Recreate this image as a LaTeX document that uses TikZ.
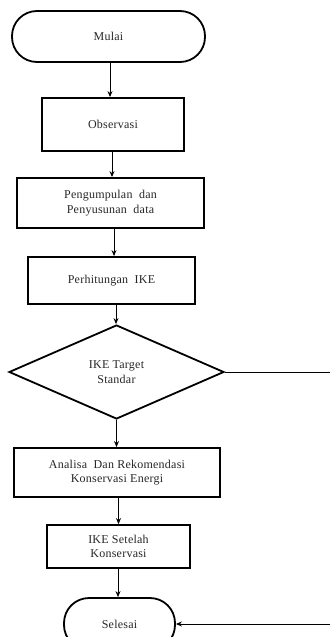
\documentclass[tikz,border=0pt]{standalone}
\usepackage{fontspec}
\setmainfont[LetterSpace=2]{Liberation Serif}
\usetikzlibrary{shapes.geometric,arrows.meta}
\begin{document}
\begin{tikzpicture}[x=1pt,y=1pt,
  every node/.style={font=\fontsize{12}{14.5}\selectfont, text=black!85, align=center},
  procbox/.style={draw, line width=1.8pt, rectangle, inner sep=0pt},
  termbox/.style={draw, line width=1.8pt, rectangle, rounded corners=25pt, inner sep=0pt},
  decbox/.style={draw, line width=1.8pt, diamond, aspect=2.29, inner sep=0pt},
  arr/.style={line width=1pt, -{Stealth[length=6pt,width=5pt]}},
  ln/.style={line width=1pt}]
\useasboundingbox (0,0) rectangle (330,-637);
\clip (0,0) rectangle (330,-637);
\node[termbox, minimum width=193pt, minimum height=51pt] (mulai) at (108.5,-36.5) {Mulai};
\node[procbox, minimum width=142pt, minimum height=53pt] (obs) at (113,-124.5) {Observasi};
\node[procbox, minimum width=187pt, minimum height=50pt] (peng) at (110.5,-203) {Pengumpulan\ \ dan\\Penyusunan\ \ data};
\node[procbox, minimum width=167pt, minimum height=47pt] (perh) at (111.5,-280.5) {Perhitungan\ \ IKE};
\node[decbox, minimum width=215pt, minimum height=94pt] (dec) at (116.5,-372) {IKE Target\\Standar};
\node[procbox, minimum width=206pt, minimum height=49pt] (ana) at (117,-472.5) {Analisa\ \ Dan Rekomendasi\\Konservasi Energi};
\node[procbox, minimum width=143pt, minimum height=43pt] (ikes) at (118.5,-546.5) {IKE Setelah\\Konservasi};
\node[termbox, minimum width=111pt, minimum height=52pt] (sel) at (119.5,-624) {Selesai};
\coordinate (r1) at (330,-372);
\coordinate (r2) at (330,-624);
\draw[arr] ([xshift=1.5pt]mulai.south) -- ([xshift=1.5pt]mulai.south |- obs.north);
\draw[arr] ([xshift=-1pt]obs.south) -- ([xshift=-1pt]obs.south |- peng.north);
\draw[arr] ([xshift=3.5pt]peng.south) -- ([xshift=3.5pt]peng.south |- perh.north);
\draw[arr] ([xshift=4.5pt]perh.south) -- ([xshift=4.5pt]perh.south |- dec.north);
\draw[arr] (dec.south) -- (dec.south |- ana.north);
\draw[arr] ([xshift=1.5pt]ana.south) -- ([xshift=1.5pt]ana.south |- ikes.north);
\draw[arr] ([xshift=-0.5pt]ikes.south) -- ([xshift=-0.5pt]ikes.south |- sel.north);
\draw[ln] (dec.east) -- (r1);
\draw[arr] (r2) -- (sel.east);
\end{tikzpicture}
\end{document}
